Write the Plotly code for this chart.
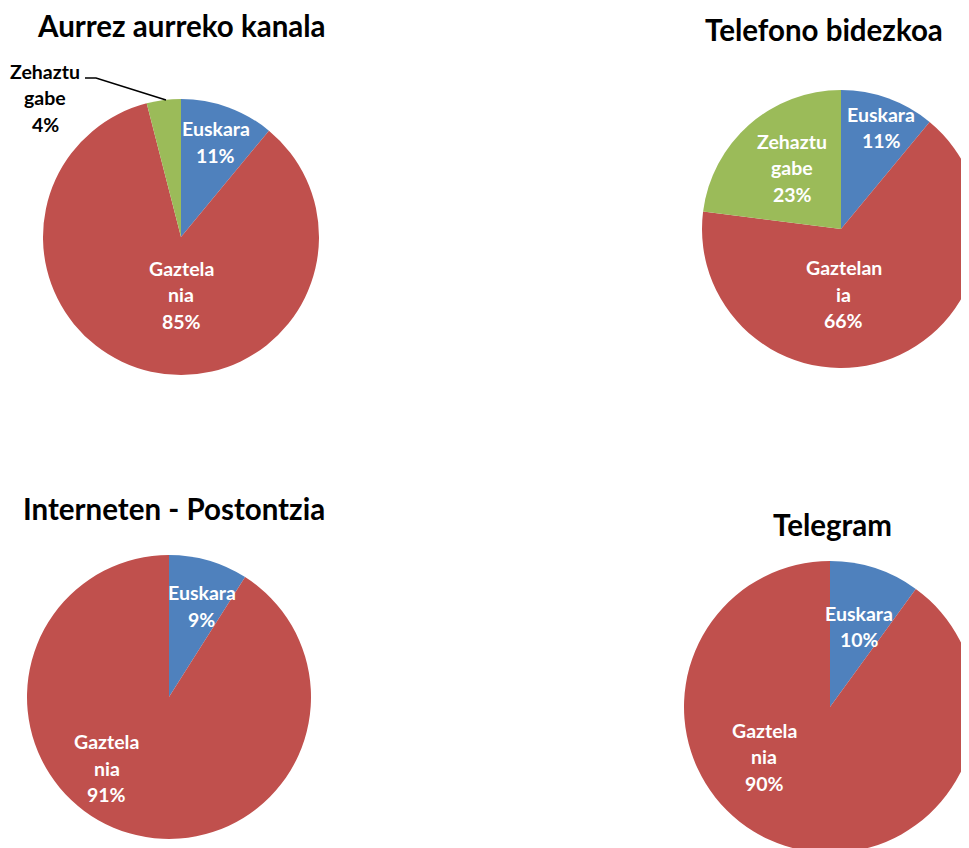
import plotly.graph_objects as go

# ---------------- data ----------------
titles = ["Aurrez aurreko kanala", "Telefono bidezkoa", "Interneten - Postontzia", "Telegram"]

aurrez_categories = ["Euskara", "Gaztelania", "Zehaztu gabe"]
aurrez_values = [11, 85, 4]
aurrez_wrapped = [["Euskara"], ["Gaztela", "nia"], ["Zehaztu", "gabe"]]

telefono_categories = ["Euskara", "Gaztelania", "Zehaztu gabe"]
telefono_values = [11, 66, 23]
telefono_wrapped = [["Euskara"], ["Gaztelan", "ia"], ["Zehaztu", "gabe"]]

internet_categories = ["Euskara", "Gaztelania"]
internet_values = [9, 91]
internet_wrapped = [["Euskara"], ["Gaztela", "nia"]]

telegram_categories = ["Euskara", "Gaztelania"]
telegram_values = [10, 90]
telegram_wrapped = [["Euskara"], ["Gaztela", "nia"]]

# ---------------- layout / style ----------------
W, H = 990, 860
OFF = 8  # page body margin
COLORS = {"Euskara": "#4F81BD", "Gaztelania": "#C0504D", "Zehaztu gabe": "#9BBB59"}
FONT = "Lato, 'Open Sans', sans-serif"
LABEL_SIZE = 19.5
TITLE_SIZE = 29.5
LINE_H = 26.5

charts = [
    dict(cats=aurrez_categories, vals=aurrez_values, wrap=aurrez_wrapped,
         center=(181, 237), r=138, title_pos=(181, 26),
         label_off=[(0.25, -0.69), (0.0, 0.42), None]),
    dict(cats=telefono_categories, vals=telefono_values, wrap=telefono_wrapped,
         center=(841, 229), r=139, title_pos=(824, 30),
         label_off=[(0.29, -0.73), (0.02, 0.47), (-0.35, -0.44)]),
    dict(cats=internet_categories, vals=internet_values, wrap=internet_wrapped,
         center=(169, 697), r=142, title_pos=(174, 508),
         label_off=[(0.23, -0.64), (-0.44, 0.50)]),
    dict(cats=telegram_categories, vals=telegram_values, wrap=telegram_wrapped,
         center=(830, 707), r=146, title_pos=(832, 524),
         label_off=[(0.20, -0.55), (-0.45, 0.34)]),
]


def px_x(x):
    return (x - OFF) / W


def px_y(y):
    return 1 - (y - OFF) / H


def add_text(fig, x, y, lines, color, size):
    n = len(lines)
    for i, line in enumerate(lines):
        yy = y + (i - (n - 1) / 2) * LINE_H
        fig.add_annotation(x=px_x(x), y=px_y(yy), xref="paper", yref="paper",
                           text=line, showarrow=False, xanchor="center", yanchor="middle",
                           font=dict(family=FONT, size=size, color=color, weight="bold"))


fig = go.Figure()

for ch, title in zip(charts, titles):
    cx, cy = ch["center"]
    r = ch["r"]
    fig.add_trace(go.Pie(
        labels=ch["cats"], values=ch["vals"],
        sort=False, direction="clockwise", rotation=0,
        marker=dict(colors=[COLORS[c] for c in ch["cats"]], line=dict(width=0)),
        textinfo="none", hoverinfo="label+percent", showlegend=False,
        domain=dict(x=[px_x(cx - r), px_x(cx + r)], y=[px_y(cy + r), px_y(cy - r)]),
    ))
    # title
    tx, ty = ch["title_pos"]
    fig.add_annotation(x=px_x(tx), y=px_y(ty), xref="paper", yref="paper", text=title,
                       showarrow=False, xanchor="center", yanchor="middle", borderpad=0,
                       font=dict(family=FONT, size=TITLE_SIZE, color="black", weight="bold"))
    # slice labels
    for cat_lines, v, off in zip(ch["wrap"], ch["vals"], ch["label_off"]):
        lines = cat_lines + [f"{v}%"]
        if off is None:
            # outside label with leader line (Zehaztu gabe in first chart)
            add_text(fig, 45, 98, lines, "black", LABEL_SIZE)
            continue
        add_text(fig, cx + off[0] * r, cy + off[1] * r, lines, "white", LABEL_SIZE)

# leader line for the outside label
fig.add_shape(type="path", xref="paper", yref="paper",
              path=f"M {px_x(85)},{px_y(78)} L {px_x(96)},{px_y(78)} L {px_x(166)},{px_y(100)}",
              line=dict(color="black", width=1.5))

fig.update_layout(width=W, height=H, margin=dict(l=0, r=0, t=0, b=0),
                  paper_bgcolor="white", plot_bgcolor="white")

fig.write_html("out.html")
